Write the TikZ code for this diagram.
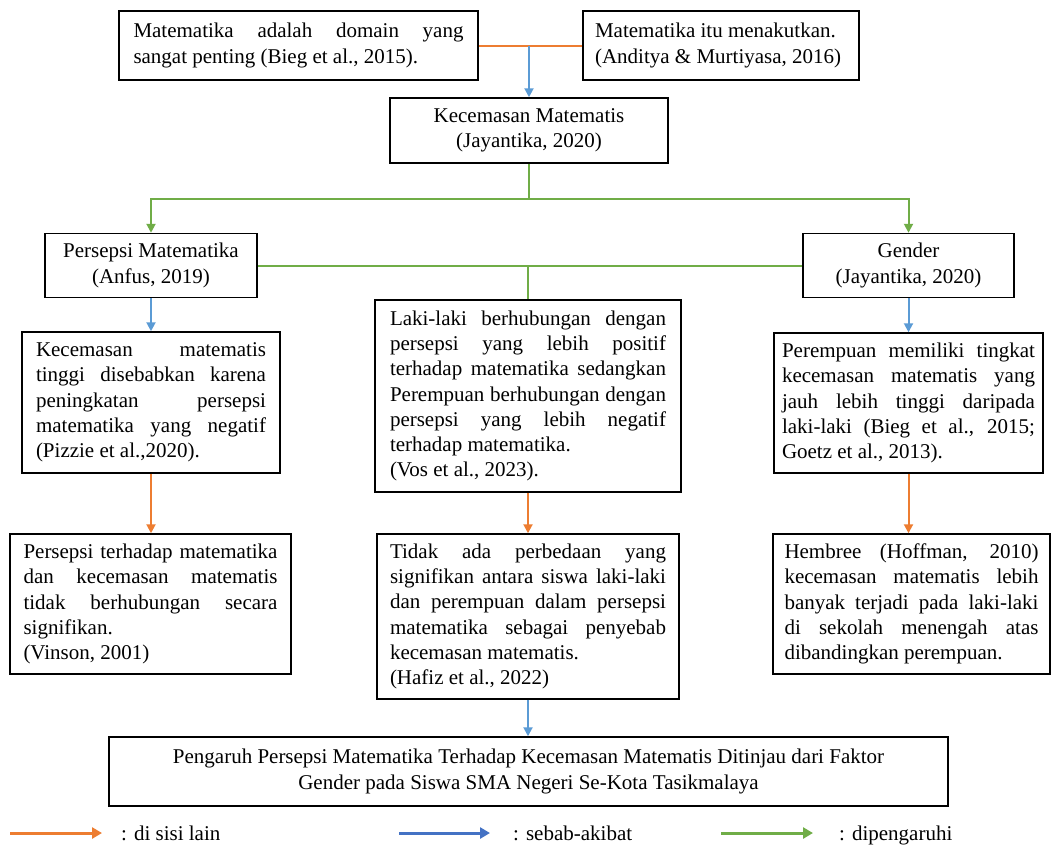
\documentclass[tikz,border=0pt]{standalone}
\usepackage{fontspec}
\setmainfont{Liberation Serif}
\usetikzlibrary{arrows.meta,calc}
\definecolor{cOr}{HTML}{ED7D31}
\definecolor{cBl}{HTML}{5B9BD5}
\definecolor{cBlL}{HTML}{4472C4}
\definecolor{cGr}{HTML}{70AD47}
\newcommand{\dgfont}{\fontsize{21}{25.3}\selectfont}
\newcommand{\jl}[1]{\makebox[\linewidth][s]{\spaceskip=0.25em plus 1fil minus 0.03em\xspaceskip=\spaceskip #1}}
\tikzset{
  box/.style={draw=black, line width=1.5pt, fill=white, inner ysep=3pt, font=\dgfont, align=flush left},
  cbox/.style={box, align=flush center},
  org/.style={draw=cOr, line width=2pt},
  blu/.style={draw=cBl, line width=2pt},
  grn/.style={draw=cGr, line width=2pt},
  tip/.style={-{Triangle[width=9pt,length=9pt]}},
  legtip/.style={line width=3pt,-{Triangle[width=11pt,length=10pt]}},
  legtxt/.style={anchor=base west, inner sep=0pt, font=\dgfont}
}
\begin{document}
\begin{tikzpicture}[x=1pt,y=-1pt]
\useasboundingbox[fill=white] (0,0) rectangle (1051,846);

% top row
\node[box, text width=330pt, inner xsep=14.5pt, minimum height=69pt] (t1) at (298.5,45.5)
  {\jl{Matematika adalah domain yang}\\ sangat penting (Bieg et al., 2015).};
\node[box, text width=252pt, inner xsep=12pt, minimum height=69pt] (t2) at (721,45.5)
  {Matematika itu menakutkan.\\ (Anditya \& Murtiyasa, 2016)};
\node[cbox, minimum width=278pt, minimum height=65pt] (kec) at (529,130.5)
  {Kecemasan Matematis\\ (Jayantika, 2020)};

% second row
\node[cbox, minimum width=212pt, minimum height=64pt] (per) at (151,265.5)
  {Persepsi Matematika\\ (Anfus, 2019)};
\node[cbox, minimum width=211pt, minimum height=64pt] (gen) at (908.5,265.5)
  {Gender\\ (Jayantika, 2020)};

% third row
\node[box, text width=230pt, inner xsep=14pt, minimum height=141pt] (lb) at (151,402.5)
  {\jl{Kecemasan matematis}\\ \jl{tinggi disebabkan karena}\\ \jl{peningkatan persepsi}\\ \jl{matematika yang negatif}\\ (Pizzie et al.,2020).};
\node[box, text width=276pt, inner xsep=15pt, minimum height=192pt] (mb) at (528,396)
  {\jl{Laki-laki berhubungan dengan}\\ \jl{persepsi yang lebih positif}\\ \jl{terhadap matematika sedangkan}\\ \jl{Perempuan berhubungan dengan}\\ \jl{persepsi yang lebih negatif}\\ terhadap matematika.\\ (Vos et al., 2023).};
\node[box, text width=253pt, inner xsep=8pt, minimum height=140pt] (rb) at (908.5,403)
  {\jl{Perempuan memiliki tingkat}\\ \jl{kecemasan matematis yang}\\ \jl{jauh lebih tinggi daripada}\\ \jl{laki-laki (Bieg et al., 2015;}\\ Goetz et al., 2013).};

% fourth row
\node[box, text width=254pt, inner xsep=13.5pt, minimum height=140pt] (llb) at (150.5,604)
  {\jl{Persepsi terhadap matematika}\\ \jl{dan kecemasan matematis}\\ \jl{tidak berhubungan secara}\\ signifikan.\\ (Vinson, 2001)};
\node[box, text width=276pt, inner xsep=13pt, minimum height=165pt] (lmb) at (528,616.5)
  {\jl{Tidak ada perbedaan yang}\\ \jl{signifikan antara siswa laki-laki}\\ \jl{dan perempuan dalam persepsi}\\ \jl{matematika sebagai penyebab}\\ kecemasan matematis.\\ (Hafiz et al., 2022)};
\node[box, text width=254pt, inner xsep=11.5pt, minimum height=140pt] (lrb) at (911.5,604)
  {\jl{Hembree (Hoffman, 2010)}\\ \jl{kecemasan matematis lebih}\\ \jl{banyak terjadi pada laki-laki}\\ \jl{di sekolah menengah atas}\\ dibandingkan perempuan.};

% final
\node[cbox, minimum width=839pt, minimum height=69pt] (fin) at (528.5,771.5)
  {Pengaruh Persepsi Matematika Terhadap Kecemasan Matematis Ditinjau dari Faktor\\ Gender pada Siswa SMA Negeri Se-Kota Tasikmalaya};

% connectors
\draw[org] (t1.east) -- (t2.west);
\coordinate (j1) at (kec.north |- t1.east);
\draw[blu,tip] (j1) -- (kec.north);

\coordinate (g1) at (529,199);
\draw[grn] (kec.south) -- (g1);
\draw[grn,tip] (g1) -| (per.north);
\draw[grn,tip] (g1) -| (gen.north);

\draw[grn] (per.east) -- (gen.west);
\coordinate (g2) at (mb.north |- per.east);
\draw[grn] (g2) -- (mb.north);

\draw[blu,tip] (per.south) -- (per.south |- lb.north);
\draw[blu,tip] (gen.south) -- (gen.south |- rb.north);

\draw[org,tip] (lb.south) -- (lb.south |- llb.north);
\draw[org,tip] (mb.south) -- (mb.south |- lmb.north);
\draw[org,tip] (rb.south) -- (rb.south |- lrb.north);

\draw[blu,tip] (lmb.south) -- (lmb.south |- fin.north);

% legend
\coordinate (lo1) at (10,833);
\coordinate (lo2) at (102,833);
\node[legtxt] (lot) at (121,840) {: di sisi lain};
\draw[cOr,legtip] (lo1) -- (lo2);
\coordinate (lb1) at (399,833);
\coordinate (lb2) at (490,833);
\node[legtxt] (lbt) at (513,840) {: sebab-akibat};
\draw[cBlL,legtip] (lb1) -- (lb2);
\coordinate (lg1) at (721,833);
\coordinate (lg2) at (813,833);
\node[legtxt] (lgt) at (839,840) {: dipengaruhi};
\draw[cGr,legtip] (lg1) -- (lg2);
\end{tikzpicture}
\end{document}
